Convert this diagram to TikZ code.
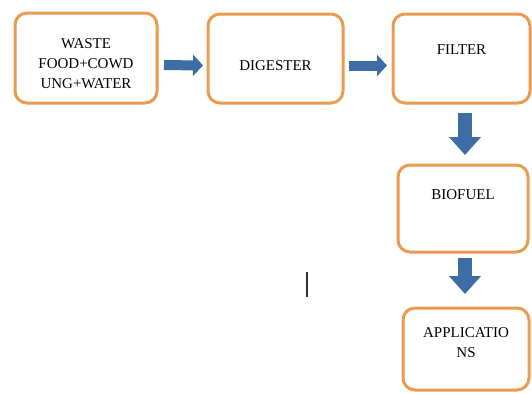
\documentclass[tikz,border=0pt]{standalone}
\usepackage{fontspec}
\setmainfont{Liberation Serif}
\usetikzlibrary{arrows.meta}

\definecolor{boxorange}{HTML}{EB9A50}
\definecolor{arrowblue}{HTML}{3E6CA4}

\tikzset{
  stagebox/.style={draw=boxorange, line width=3pt, rounded corners=12pt,
    fill=white, outer sep=0pt, align=center, font=\fontsize{15}{20}\selectfont},
  flowarrow/.style={draw=arrowblue, line width=10pt,
    -{Triangle[width=21pt,length=10pt]}},
  downarrow/.style={flowarrow, line width=14pt,
    -{Triangle[width=31pt,length=18pt]}}
}

\begin{document}
\begin{tikzpicture}[x=1pt,y=-1pt]
      \useasboundingbox (0,0) rectangle (532,394);
      \node[stagebox, minimum width=142pt, minimum height=90pt, text height=60pt, text depth=0pt] (waste) at (86,58)
        {WASTE\\FOOD+COWD\\UNG+WATER};
      \node[stagebox, minimum width=135pt, minimum height=89pt, text height=24pt] (digester) at (275.5,58.5)
        {DIGESTER};
      \node[stagebox, minimum width=137pt, minimum height=89pt, text depth=18pt] (filter) at (461.5,58.5)
        {FILTER};
      \node[stagebox, minimum width=130pt, minimum height=87pt, text depth=27pt] (biofuel) at (463,208.5)
        {BIOFUEL};
      \node[stagebox, minimum width=126pt, minimum height=82pt, text depth=12pt] (applications) at (466,349)
        {APPLICATIO\\NS};

      \draw[flowarrow, shorten <=7pt, shorten >=5pt] ([yshift=-7pt]waste.east) -- ([yshift=-7pt]digester.west);
      \draw[flowarrow, shorten <=6pt, shorten >=6pt] ([yshift=-7pt]digester.east) -- ([yshift=-7pt]filter.west);
      \draw[downarrow, shorten <=10pt, shorten >=10pt] (filter.south -| 465,0) -- (biofuel.north -| 465,0);
      \draw[downarrow, shorten <=6pt, shorten >=14pt] (biofuel.south -| 465,0) -- (applications.north -| 465,0);

      % stray cursor mark
      \draw[line width=1.2pt, black!80] (307,272) -- (307,297);
    \end{tikzpicture}
\end{document}
